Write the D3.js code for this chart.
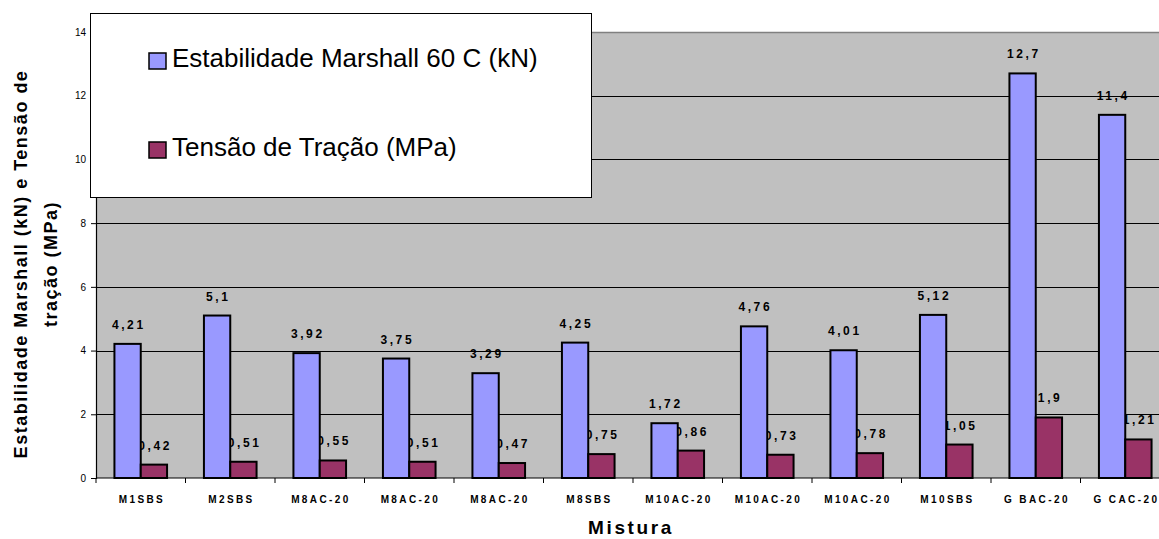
<!DOCTYPE html>
<html>
<head>
<meta charset="utf-8">
<script src="https://cdn.jsdelivr.net/npm/d3@7"></script>
<style>
  html, body { margin: 0; padding: 0; background: #fff; }
  svg { display: block; font-family: Arial, "Liberation Sans", sans-serif; }
</style>
</head>
<body>
<svg id="chart" width="1159" height="539"></svg>
<script>
// Mixture names on the x axis
const categories = ["M1SBS", "M2SBS", "M8AC-20", "M8AC-20", "M8AC-20", "M8SBS",
                    "M10AC-20", "M10AC-20", "M10AC-20", "M10SBS", "G BAC-20", "G CAC-20"];
// Marshall stability at 60 C (kN)
const estabilidade = [4.21, 5.1, 3.92, 3.75, 3.29, 4.25, 1.72, 4.76, 4.01, 5.12, 12.7, 11.4];
// Tensile strength (MPa)
const tensao = [0.42, 0.51, 0.55, 0.51, 0.47, 0.75, 0.86, 0.73, 0.78, 1.05, 1.9, 1.21];
const seriesNames = ["Estabilidade Marshall 60 C (kN)", "Tensão de Tração (MPa)"];
const seriesColors = ["#9999FF", "#993366"];
const yTicks = [0, 2, 4, 6, 8, 10, 12, 14];

const svg = d3.select("#chart");
const plot = { left: 96, top: 32, bottom: 478, right: 96 + 89.5 * 12 };

const idx = categories.map((_, i) => i);
const x0 = d3.scaleBand().domain(idx).range([plot.left, plot.right]).padding(0);
const bw = x0.bandwidth();
const x1 = d3.scaleBand().domain([0, 1]).range([bw * 0.206, bw * 0.794]).padding(0);
const y = d3.scaleLinear().domain([0, 14]).range([plot.bottom, plot.top]);

const rows = idx.map(i => ({ i, vals: [estabilidade[i], tensao[i]] }));
const fmt = v => String(v).replace(".", ",");

// Plot background
svg.append("rect")
  .attr("x", plot.left).attr("y", plot.top)
  .attr("width", plot.right - plot.left).attr("height", plot.bottom - plot.top)
  .attr("fill", "#C0C0C0");
svg.append("line")
  .attr("x1", plot.left).attr("x2", plot.right)
  .attr("y1", plot.top + 0.5).attr("y2", plot.top + 0.5)
  .attr("stroke", "#808080").attr("stroke-width", 1.5);

// Horizontal gridlines
svg.append("g").selectAll("line")
  .data(yTicks.filter(t => t > 0 && t < 14))
  .join("line")
  .attr("x1", plot.left).attr("x2", plot.right)
  .attr("y1", d => Math.round(y(d)) + 0.5).attr("y2", d => Math.round(y(d)) + 0.5)
  .attr("stroke", "#000").attr("stroke-width", 1);

// Y axis
const yAxis = svg.append("g")
  .attr("transform", `translate(${plot.left},0)`)
  .call(d3.axisLeft(y).tickValues(yTicks).tickSize(5).tickPadding(5).tickFormat(d3.format("d")));
yAxis.select(".domain").attr("stroke", "#000").attr("stroke-width", 1.2);
yAxis.selectAll(".tick line").attr("stroke", "#000");
yAxis.selectAll(".tick text")
  .attr("font-size", 10).attr("fill", "#000")
  .attr("font-family", "Arial, 'Liberation Sans', sans-serif");

// X axis: ticks at category boundaries
const xAxisG = svg.append("g").attr("transform", `translate(0,${plot.bottom})`);
xAxisG.append("line")
  .attr("x1", plot.left).attr("x2", plot.right).attr("y1", 0).attr("y2", 0)
  .attr("stroke", "#000").attr("stroke-width", 1.2);
xAxisG.selectAll("line.tk")
  .data(idx.concat([categories.length]))
  .join("line").attr("class", "tk")
  .attr("x1", d => (d < categories.length ? x0(d) : plot.right))
  .attr("x2", d => (d < categories.length ? x0(d) : plot.right))
  .attr("y1", 0).attr("y2", 5)
  .attr("stroke", "#000");
xAxisG.selectAll("text.cat")
  .data(idx)
  .join("text").attr("class", "cat")
  .attr("x", d => x0(d) + bw / 2 + 1.2)
  .attr("y", 25)
  .attr("text-anchor", "middle")
  .attr("font-size", 10).attr("font-weight", "bold")
  .attr("letter-spacing", 2.4)
  .text(d => categories[d]);

// Value labels (drawn beneath the bars)
const groups = svg.append("g");
const labelG = groups.append("g");
labelG.selectAll("g")
  .data(rows)
  .join("g")
  .attr("transform", d => `translate(${x0(d.i)},0)`)
  .selectAll("text")
  .data(d => d.vals.map((v, s) => ({ v, s })))
  .join("text")
  .attr("x", d => x1(d.s) + x1.bandwidth() / 2 + 1.2)
  .attr("y", d => y(d.v) - 15)
  .attr("text-anchor", "middle")
  .attr("font-size", 12).attr("font-weight", "bold")
  .attr("letter-spacing", 2.6)
  .attr("fill", "#000")
  .text(d => fmt(d.v));

// Bars
groups.append("g").selectAll("g")
  .data(rows)
  .join("g")
  .attr("transform", d => `translate(${x0(d.i)},0)`)
  .selectAll("rect")
  .data(d => d.vals.map((v, s) => ({ v, s })))
  .join("rect")
  .attr("x", d => x1(d.s))
  .attr("y", d => y(d.v))
  .attr("width", x1.bandwidth())
  .attr("height", d => y(0) - y(d.v))
  .attr("fill", d => seriesColors[d.s])
  .attr("stroke", "#000").attr("stroke-width", 2);

// Axis titles
svg.append("text")
  .attr("x", (plot.left + 1170) / 2 - 2)
  .attr("y", 534)
  .attr("text-anchor", "middle")
  .attr("font-size", 19).attr("font-weight", "bold")
  .attr("letter-spacing", 2.6)
  .text("Mistura");

const yTitle = svg.append("text")
  .attr("transform", `translate(0,264) rotate(-90)`)
  .attr("text-anchor", "middle")
  .attr("font-size", 18).attr("font-weight", "bold")
  .attr("letter-spacing", 1.5);
yTitle.append("tspan").attr("x", 0).attr("y", 27).text("Estabilidade Marshall (kN) e Tensão de");
yTitle.append("tspan").attr("x", 0).attr("y", 57).text("tração (MPa)");

// Legend
const legend = svg.append("g");
legend.append("rect")
  .attr("x", 90.5).attr("y", 13.5).attr("width", 501).attr("height", 184)
  .attr("fill", "#fff").attr("stroke", "#000").attr("stroke-width", 1);
const items = legend.selectAll("g.item")
  .data(seriesNames)
  .join("g").attr("class", "item")
  .attr("transform", (d, i) => `translate(149,${53 + i * 89})`);
items.append("rect")
  .attr("width", 17).attr("height", 16)
  .attr("fill", (d, i) => seriesColors[i])
  .attr("stroke", "#000").attr("stroke-width", 1.5);
items.append("text")
  .attr("x", 23).attr("y", 13.5)
  .attr("font-size", 26)
  .attr("fill", "#000")
  .text(d => d);
</script>
</body>
</html>
